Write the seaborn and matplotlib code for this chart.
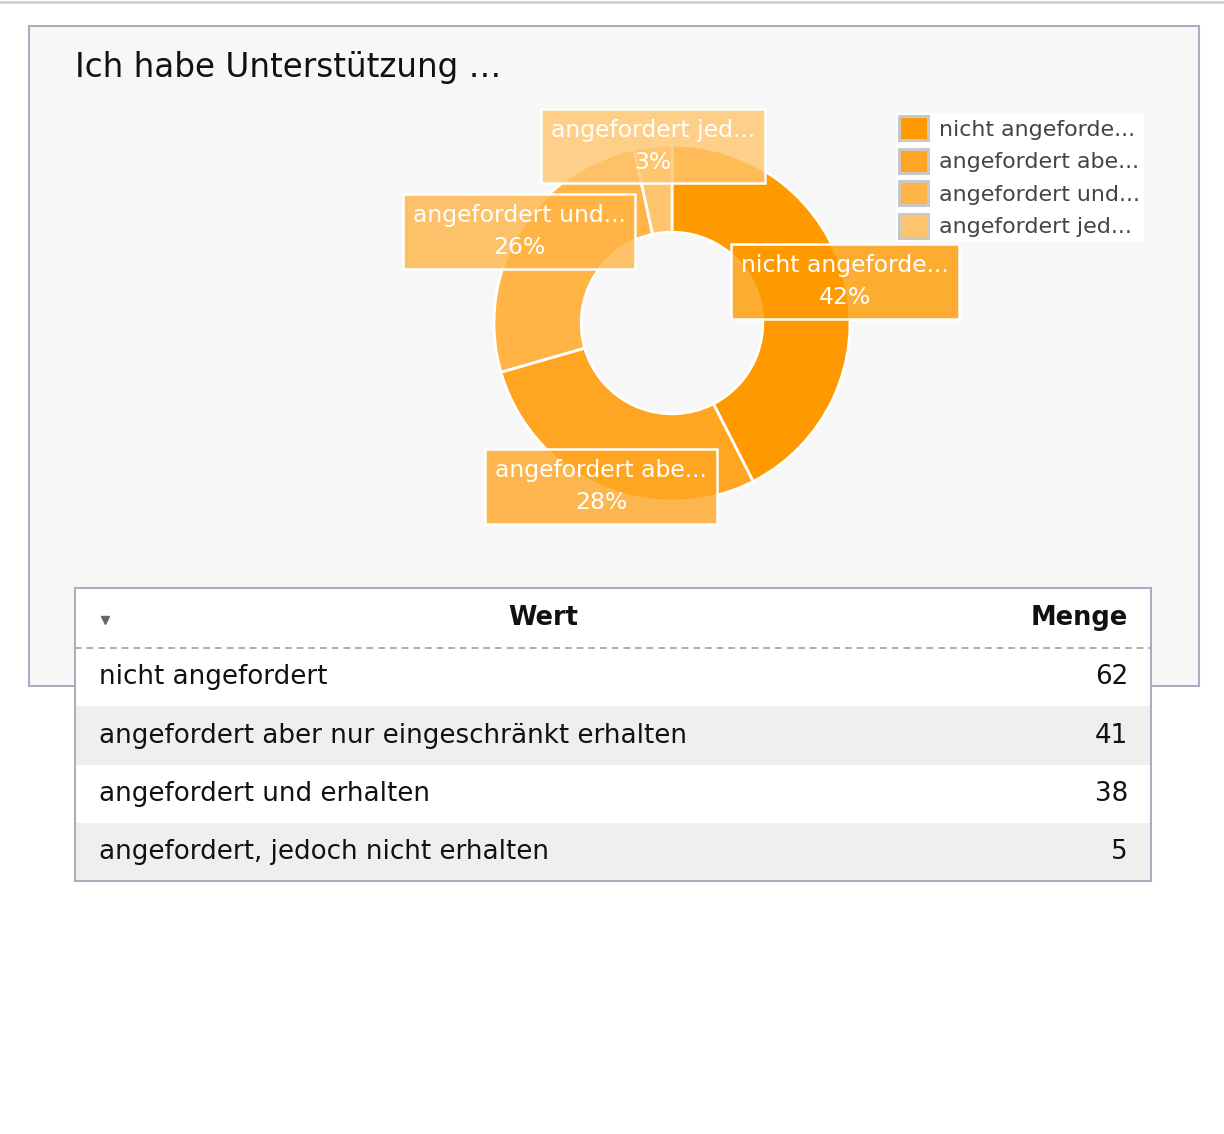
import numpy as np
import matplotlib
matplotlib.use("Agg")
import matplotlib.pyplot as plt
from matplotlib.patches import Rectangle
from matplotlib.colors import to_rgba
import seaborn as sns

# data
title = "Ich habe Unterstützung …"
categories = [
    "nicht angefordert",
    "angefordert aber nur eingeschränkt erhalten",
    "angefordert und erhalten",
    "angefordert, jedoch nicht erhalten",
]
short_labels = ["nicht angeforde...", "angefordert abe...", "angefordert und...", "angefordert jed..."]
counts = [62, 41, 38, 5]
colors = ["#ff9900", "#ffa522", "#ffb445", "#ffc56e"]
header = ["Wert", "Menge"]

W, H = 1224, 1134


def px_rect(x0, y0, x1, y1):
    """Figure rect from pixel box (top-left origin)."""
    return [x0 / W, 1 - y1 / H, (x1 - x0) / W, (y1 - y0) / H]


sns.set_theme(style="white")
plt.rcParams["font.family"] = ["DejaVu Sans"]

fig = plt.figure(figsize=(W / 100, H / 100), dpi=100)
fig.patch.set_facecolor("white")

# background panel
bg = fig.add_axes([0, 0, 1, 1])
bg.set_xlim(0, W)
bg.set_ylim(H, 0)
bg.axis("off")
bg.axhline(2, color="#cfcfcf", lw=2)
bg.add_patch(Rectangle((29, 26), 1170, 660, facecolor="#f7f7f7", edgecolor="#a9afc0", lw=1.5))
bg.text(75, 67, title, fontsize=23.5, color="#111111", va="center", ha="left")

# donut
cx, cy, r = 672, 323, 178
pax = fig.add_axes(px_rect(cx - 2 * r, cy - 2 * r, cx + 2 * r, cy + 2 * r))
wedges, _ = pax.pie(
    counts,
    colors=colors,
    startangle=90,
    counterclock=False,
    radius=1,
    wedgeprops=dict(width=0.49, edgecolor="white", linewidth=2),
)
pax.set_xlim(-2, 2)
pax.set_ylim(-2, 2)
pax.set_aspect("equal")
pax.axis("off")

total = sum(counts)
for w, lab, n, col in zip(wedges, short_labels, counts, colors):
    ang = np.deg2rad((w.theta1 + w.theta2) / 2)
    pax.text(
        np.cos(ang), np.sin(ang),
        f"{lab}\n{round(100 * n / total)}%",
        ha="center", va="center", multialignment="center",
        color="white", fontsize=16.9, linespacing=1.5,
        bbox=dict(boxstyle="square,pad=0.42", facecolor=to_rgba(col, 0.8),
                  edgecolor="white", linewidth=1.8),
    )

# legend
leg = fig.legend(
    wedges, short_labels,
    loc="upper left", bbox_to_anchor=(896 / W, 1 - 113 / H), bbox_transform=fig.transFigure,
    borderaxespad=0, borderpad=0.15, fontsize=15.9,
    handlelength=1.3, handleheight=1.3, handletextpad=0.5, labelspacing=0.38,
    frameon=True, fancybox=False, facecolor="white", edgecolor="white", framealpha=1,
    labelcolor="#444444",
)
for p in leg.get_patches():
    p.set_edgecolor("#c8c8c8")
    p.set_linewidth(2.2)

# table
tax = fig.add_axes(px_rect(75, 588, 1151, 881), zorder=3)
tax.set_facecolor("white")
head = 60 / 58
tax.set_xlim(0, 1)
tax.set_ylim(len(categories), -head)
for i, (cat, n) in enumerate(zip(categories, counts)):
    if i % 2 == 1:
        tax.axhspan(i, i + 1, color="#efefef", lw=0)
    tax.text(0.0223, i + 0.5, cat, ha="left", va="center", fontsize=18.8, color="#111111")
    tax.text(0.9786, i + 0.5, str(n), ha="right", va="center", fontsize=18.8, color="#111111")
tax.axhline(0, color="#a0a0a0", lw=1.2, ls=(0, (4, 3)))
tax.text(0.435, -head / 2, header[0], ha="center", va="center", fontsize=18.5,
         fontweight="bold", color="#111111")
tax.text(0.9786, -head / 2, header[1], ha="right", va="center", fontsize=18.5,
         fontweight="bold", color="#111111")
tax.plot([0.0279], [-head / 2 + 0.03], marker="v", color="#666666", markersize=6, ls="none")
tax.set_xticks([])
tax.set_yticks([])
for s in tax.spines.values():
    s.set_visible(True)
    s.set_color("#a9afc0")
    s.set_linewidth(1.5)

fig.savefig("out.png", dpi=100)
